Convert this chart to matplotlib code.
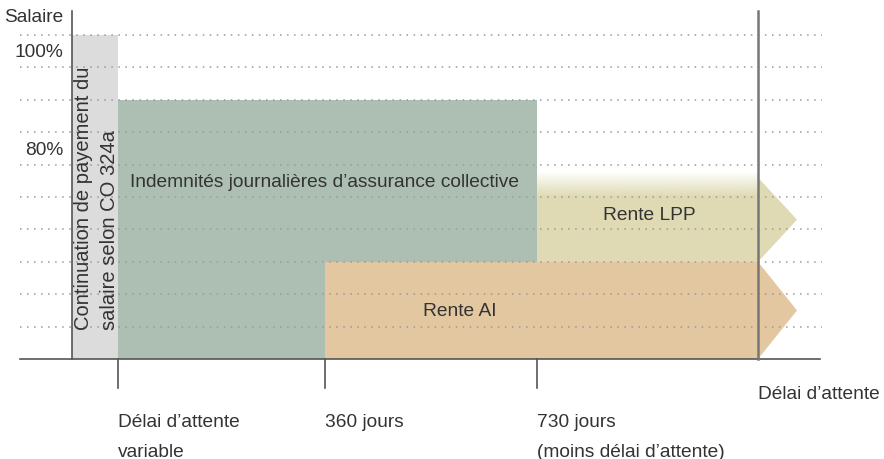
import numpy as np
import matplotlib.pyplot as plt
from matplotlib.patches import Rectangle, Polygon
from matplotlib.colors import to_rgb

# schematic timeline positions (x) and salary levels in % (y)
t_start = 0          # y axis
t_var = 46           # délai d'attente variable
t_360 = 253          # 360 jours
t_730 = 465          # 730 jours
t_end = 686          # délai d'attente (end)
arrow_len = 39

grid_levels = [10, 20, 30, 40, 50, 60, 70, 80, 90, 100]
lvl_continuation = 100
lvl_indemnites = 80
lvl_lpp = 50
lvl_lpp_fade = 58
lvl_lpp_arrow = 56
lvl_ai = 30

y_labels = ["Salaire", "100%", "80%"]
y_label_pos = [105.6, 95, 64.8]

tick_pos = [t_var, t_360, t_730]
tick_labels = [["Délai d’attente", "variable"], ["360 jours"], ["730 jours", "(moins délai d’attente)"]]

c_grey = "#dcdcdd"
c_green = "#adbfb3"
c_lpp = "#dfdab3"
c_ai = "#e2c7a0"
c_text = "#333333"
c_axis = "#555555"

plt.rcParams['font.family'] = ['Liberation Sans', 'DejaVu Sans']

fig = plt.figure(figsize=(8.84, 4.6), dpi=100)
ax = fig.add_axes([0, 0, 1, 1])
ax.axis('off')
xlim = (-72, 812)
ylim = (-30.86, 111.11)

# blocks
ax.add_patch(Rectangle((t_start, 0), t_var - t_start, lvl_continuation, color=c_grey, lw=0, zorder=1))
ax.add_patch(Rectangle((t_var, 0), t_730 - t_var, lvl_indemnites, color=c_green, lw=0, zorder=1))
ax.add_patch(Rectangle((t_730, lvl_ai), t_end - t_730, lvl_lpp - lvl_ai, color=c_lpp, lw=0, zorder=1))
ax.add_patch(Polygon([(t_end, lvl_ai), (t_end, lvl_lpp_arrow),
                      (t_end + arrow_len, (lvl_ai + lvl_lpp_arrow) / 2)],
                     closed=True, color=c_lpp, lw=0, zorder=1))
ax.add_patch(Rectangle((t_360, 0), t_end - t_360, lvl_ai, color=c_ai, lw=0, zorder=1))
ax.add_patch(Polygon([(t_end, 0), (t_end, lvl_ai), (t_end + arrow_len, lvl_ai / 2)],
                     closed=True, color=c_ai, lw=0, zorder=1))

# fade on top of the LPP block
n = 64
grad = np.zeros((n, 1, 4))
grad[:, 0, :3] = to_rgb(c_lpp)
grad[:, 0, 3] = np.linspace(1, 0, n)
ax.imshow(grad, extent=[t_730, t_end, lvl_lpp, lvl_lpp_fade], origin='lower',
          aspect='auto', zorder=1, interpolation='bilinear')

# dotted grid
for g in grid_levels:
    ax.plot([-52, 750], [g, g], color="#999999", lw=1.1, linestyle=(0, (1, 3.6)), zorder=2)

# axes
ax.plot([-52, 748], [0, 0], color=c_axis, lw=1.2, zorder=3)
ax.plot([0, 0], [0, 107.4], color=c_axis, lw=1.2, zorder=3)
ax.plot([t_end, t_end], [0, 107.4], color="#777777", lw=1.8, zorder=3)
for t in tick_pos:
    ax.plot([t, t], [0, -9], color=c_axis, lw=1.2, zorder=3)

# texts
fs = 13.8
for lab, y in zip(y_labels, y_label_pos):
    ax.text(-9, y, lab, ha='right', va='center', fontsize=fs, color=c_text)

for t, lines in zip(tick_pos, tick_labels):
    for i, line in enumerate(lines):
        ax.text(t, -19.4 - 9 * i, line, ha='left', va='center', fontsize=fs, color=c_text)
ax.text(t_end, -10.5, "Délai d’attente", ha='left', va='center', fontsize=fs, color=c_text)

ax.text(58, 54.9, "Indemnités journalières d’assurance collective", ha='left', va='center',
        fontsize=fs, color=c_text, zorder=4)
ax.text(577, 44.5, "Rente LPP", ha='center', va='center', fontsize=fs, color=c_text, zorder=4)
ax.text(388, 15, "Rente AI", ha='center', va='center', fontsize=fs, color=c_text, zorder=4)
ax.text(24.5, 9.3, "Continuation de payement du\nsalaire selon CO 324a", rotation=90,
        ha='center', va='bottom', multialignment='left', fontsize=14.5, color=c_text,
        linespacing=1.45, zorder=4)

ax.set_xlim(*xlim)
ax.set_ylim(*ylim)
fig.savefig("out.png", dpi=100)
